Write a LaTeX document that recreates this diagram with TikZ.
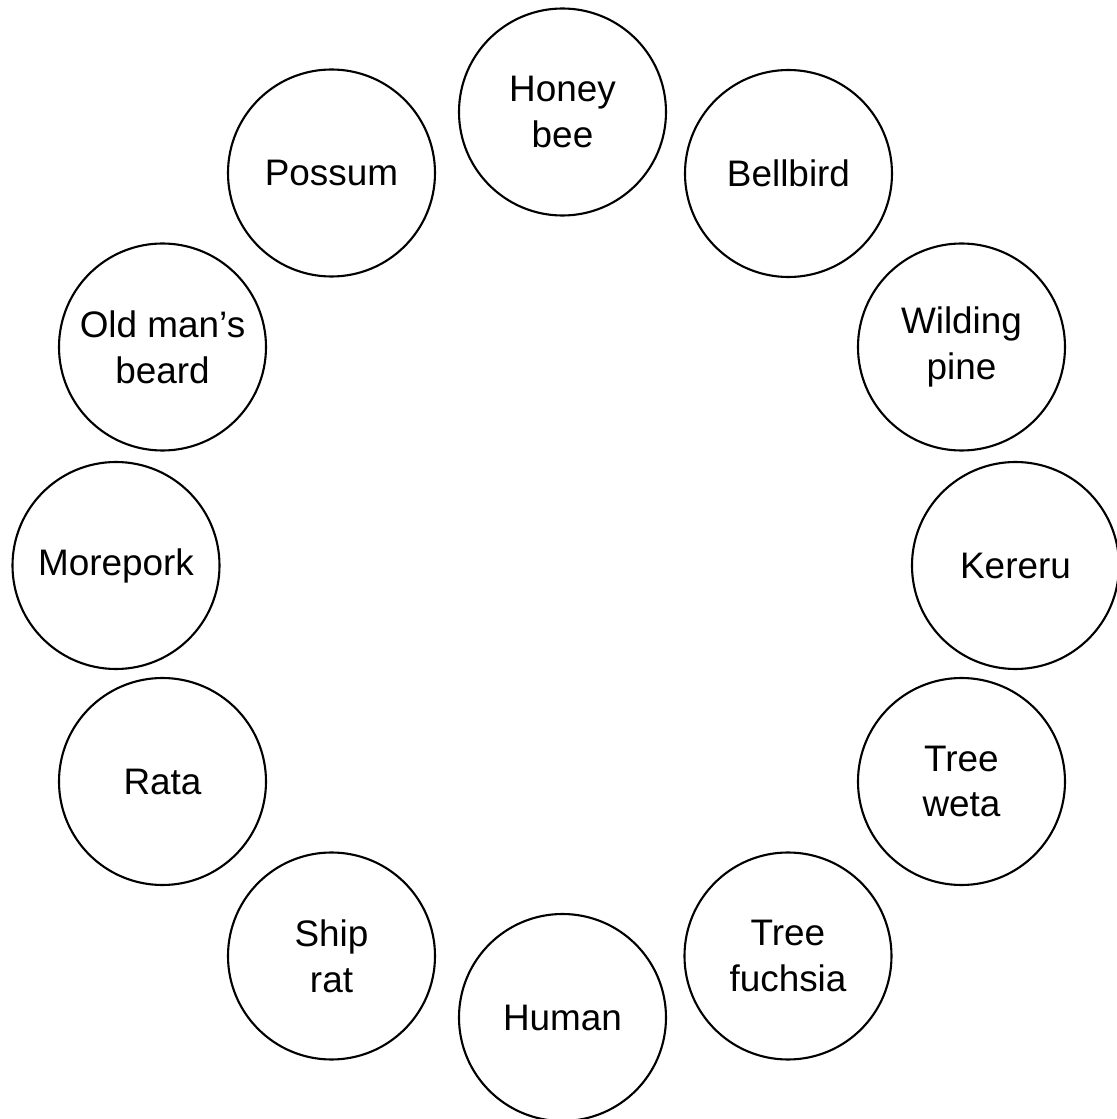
\documentclass[tikz,border=0pt]{standalone}
\usepackage{fontspec}
\setmainfont{Liberation Sans}
\usepackage{tikz}

\begin{document}
\begin{tikzpicture}[
        species/.style={circle, draw, line width=0.6pt, minimum size=2.07cm, inner sep=0pt,
            align=center, font=\fontsize{10.5}{13}\selectfont}
    ]
        % Fix the page
        \useasboundingbox (0,0) rectangle (11.16,11.19);

        % Top half of the ring
        \node[species] (honeybee) at (5.625,10.07) {Honey\\bee};
        \node[species] (bellbird) at (7.885,9.455) {Bellbird};
        \node[species] (wilding) at (9.615,7.72) {Wilding\\pine};
        \node[species] (kereru) at (10.155,5.535) {Kereru};
        \node[species] (weta) at (9.615,3.375) {Tree\\weta};
        \node[species] (fuchsia) at (7.88,1.63) {Tree\\fuchsia};

        % Bottom half of the ring
        \node[species] (human) at (5.625,1.015) {Human};
        \node[species] (shiprat) at (3.315,1.63) {Ship\\rat};
        \node[species] (rata) at (1.625,3.375) {Rata};
        \node[species] (morepork) at (1.16,5.535) {Morepork};
        \node[species] (oldman) at (1.625,7.72) {Old man’s\\beard};
        \node[species] (possum) at (3.315,9.46) {Possum};
    \end{tikzpicture}
\end{document}
